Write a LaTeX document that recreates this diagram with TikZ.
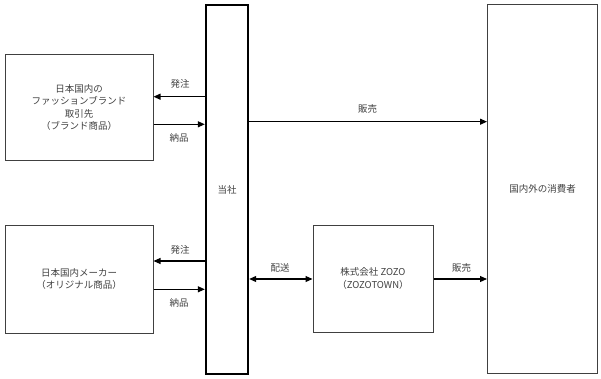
\documentclass[tikz,border=0pt]{standalone}
\usepackage{fontspec}
\setmainfont{Noto Sans CJK JP}
\usetikzlibrary{arrows.meta}
\begin{document}
\begin{tikzpicture}[x=1pt,y=-1pt,
  every node/.style={font=\fontsize{9.5}{12.4}\selectfont, text=black!75, inner sep=0pt},
  box/.style={draw=black!75, line width=1pt, align=center},
  mainbox/.style={draw=black, line width=2.4pt, align=center},
  arr/.style={draw=black, line width=1.1pt, -{Triangle[length=7pt,width=6pt]}},
  darr/.style={draw=black, line width=1.1pt, {Triangle[length=7pt,width=6pt]}-{Triangle[length=7pt,width=6pt]}},
  lbl/.style={}
]
\useasboundingbox (0,0) rectangle (601,379);
% boxes
\node[box, minimum width=148pt, minimum height=106.5pt] (b1) at (79,107.3) {日本国内の\\ファッションブランド\\取引先\\（ブランド商品）};
\node[box, minimum width=148pt, minimum height=108pt] (b2) at (79,279) {日本国内メーカー\\（オリジナル商品）};
\node[mainbox, minimum width=42pt, minimum height=369pt] (tosha) at (227,189.5) {当社};
\node[box, minimum width=120pt, minimum height=107pt] (zozo) at (373,278.5) {株式会社 ZOZO\\（ZOZOTOWN）};
\node[box, minimum width=110pt, minimum height=368pt] (cons) at (542.5,189) {国内外の消費者};
% coordinates
\coordinate (y1) at (0,96.7);
\coordinate (y2) at (0,124.3);
\coordinate (y3) at (0,121.7);
\coordinate (y4) at (0,261);
\coordinate (y5) at (0,289.3);
\coordinate (y6) at (0,279);
% arrows
\draw[arr] (tosha.west |- y1) -- (b1.east |- y1);
\draw[arr] (b1.east |- y2) -- (tosha.west |- y2);
\draw[arr] (tosha.east |- y3) -- (cons.west |- y3);
\draw[arr] (tosha.west |- y4) -- (b2.east |- y4);
\draw[arr] (b2.east |- y5) -- (tosha.west |- y5);
\draw[darr] (tosha.east |- y6) -- (zozo.west |- y6);
\draw[arr] (zozo.east |- y6) -- (cons.west |- y6);
% labels
\node[lbl] (l1) at (180,84.3) {発注};
\node[lbl] (l2) at (179,138) {納品};
\node[lbl] (l3) at (367.5,108.5) {販売};
\node[lbl] (l4) at (180,250) {発注};
\node[lbl] (l5) at (179,303) {納品};
\node[lbl] (l6) at (280,267.7) {配送};
\node[lbl] (l7) at (461.5,268) {販売};
\end{tikzpicture}
\end{document}
